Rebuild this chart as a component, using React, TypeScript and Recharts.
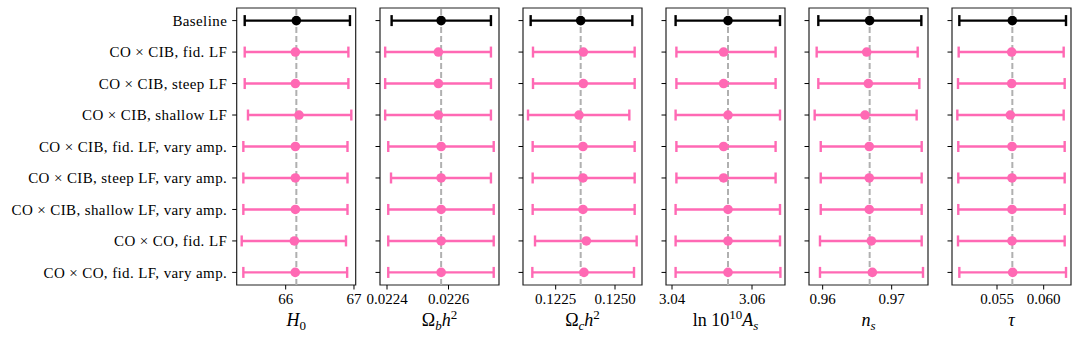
import React from 'react';
import { ScatterChart, Scatter, XAxis, YAxis, ErrorBar, ReferenceLine, ReferenceArea } from 'recharts';

const rowLabels = [
  'Baseline',
  'CO × CIB, fid. LF',
  'CO × CIB, steep LF',
  'CO × CIB, shallow LF',
  'CO × CIB, fid. LF, vary amp.',
  'CO × CIB, steep LF, vary amp.',
  'CO × CIB, shallow LF, vary amp.',
  'CO × CO, fid. LF',
  'CO × CO, fid. LF, vary amp.',
];

// H0
const h0Low = [65.4, 65.4, 65.4, 65.448, 65.38, 65.38, 65.38, 65.356, 65.38];
const h0Mid = [66.156, 66.142, 66.142, 66.195, 66.142, 66.142, 66.142, 66.127, 66.14];
const h0High = [66.941, 66.918, 66.918, 66.961, 66.905, 66.905, 66.905, 66.883, 66.9];
const h0Ticks = [66, 67];

// Omega_b h^2
const obLow = [0.022415, 0.022394, 0.022394, 0.022394, 0.022404, 0.022413, 0.022404, 0.022404, 0.022404];
const obMid = [0.022576, 0.022567, 0.022567, 0.022567, 0.022576, 0.022576, 0.022576, 0.022576, 0.022576];
const obHigh = [0.022738, 0.022738, 0.022738, 0.022738, 0.022747, 0.022738, 0.022747, 0.022747, 0.022747];
const obTicks = [0.0224, 0.0226];

// Omega_c h^2
const ocLow = [0.121446, 0.121544, 0.121544, 0.121334, 0.12153, 0.12153, 0.12153, 0.121629, 0.121516];
const ocMid = [0.123553, 0.123665, 0.123665, 0.123483, 0.12365, 0.12365, 0.12365, 0.123791, 0.123693];
const ocHigh = [0.12573, 0.125828, 0.125828, 0.125603, 0.125828, 0.125828, 0.125828, 0.125912, 0.1258];
const ocTicks = [0.1225, 0.125];

// ln 10^10 A_s
const asLow = [3.0409, 3.0411, 3.0411, 3.0409, 3.0411, 3.0411, 3.0409, 3.0409, 3.0409];
const asMid = [3.054, 3.0529, 3.0529, 3.054, 3.0529, 3.0529, 3.054, 3.054, 3.054];
const asHigh = [3.067, 3.0659, 3.0659, 3.067, 3.0659, 3.0659, 3.067, 3.067, 3.0671];
const asTicks = [3.04, 3.06];

// n_s
const nsLow = [0.95937, 0.95913, 0.95937, 0.95884, 0.95972, 0.95972, 0.95972, 0.95961, 0.95961];
const nsMid = [0.96681, 0.96638, 0.96662, 0.96614, 0.96675, 0.96675, 0.96675, 0.96705, 0.9672];
const nsHigh = [0.9743, 0.97377, 0.97401, 0.97362, 0.97435, 0.97435, 0.97435, 0.97435, 0.97454];
const nsTicks = [0.96, 0.97];

// tau
const tauLow = [0.050964, 0.050892, 0.050821, 0.050749, 0.05085, 0.05085, 0.05085, 0.050821, 0.050964];
const tauMid = [0.056643, 0.056571, 0.056571, 0.056428, 0.05661, 0.05661, 0.05661, 0.056607, 0.056679];
const tauHigh = [0.062393, 0.062143, 0.06225, 0.062143, 0.06225, 0.06225, 0.06225, 0.06225, 0.062393];
const tauTicks = [0.055, 0.06];

const PINK = '#ff69b4';
const BLACK = '#000000';
const TEXT = '#000000';
const FONT = '"Liberation Serif", "DejaVu Serif", serif';
const ROW_TICKS = [0, 1, 2, 3, 4, 5, 6, 7, 8];
const PLOT_W = 119;
const RIGHT_PAD = 25;

const dot = (color: string) => (props: any) => (
  <circle cx={props.cx} cy={props.cy} r={4.8} fill={color} stroke="none" />
);

type PanelProps = {
  index: number;
  low: number[];
  mid: number[];
  high: number[];
  domain: [number, number];
  ticks: number[];
  fmt: (v: number) => string;
  label: React.ReactNode;
};

function Panel({ index, low, mid, high, domain, ticks, fmt, label }: PanelProps) {
  const plotLeft = 236.7 + 143 * index;
  const showY = index === 0;
  const yW = showY ? plotLeft : 20;
  const left = plotLeft - yW;
  const width = yW + PLOT_W + RIGHT_PAD;
  const base = [{ y: 0, x: mid[0], err: [mid[0] - low[0], high[0] - mid[0]] }];
  const rest = mid.slice(1).map((m, k) => ({
    y: k + 1,
    x: m,
    err: [m - low[k + 1], high[k + 1] - m],
  }));
  return (
    <div style={{ position: 'absolute', left, top: 0 }}>
      <ScatterChart width={width} height={338} margin={{ top: 8, right: RIGHT_PAD, bottom: 0, left: 0 }}>
        <XAxis
          type="number"
          dataKey="x"
          domain={domain}
          allowDataOverflow
          ticks={ticks}
          interval={0}
          tickFormatter={fmt}
          height={53}
          axisLine={false}
          tickSize={4.5}
          tickMargin={4}
          tickLine={{ stroke: '#000', strokeWidth: 1 }}
          tick={{ fontSize: 15, fill: TEXT, fontFamily: FONT }}
          label={{
            content: (p: any) => {
              const vb = p.viewBox || {};
              const cx = vb.x + vb.width / 2;
              return (
                <text x={cx} y={326} textAnchor="middle" fontSize={18} fontFamily={FONT} fill={TEXT}>
                  {label}
                </text>
              );
            },
          }}
        />
        <YAxis
          type="number"
          dataKey="y"
          domain={[-0.4, 8.4]}
          allowDataOverflow
          reversed
          ticks={ROW_TICKS}
          interval={0}
          width={yW}
          axisLine={false}
          tickSize={4.5}
          tickMargin={5}
          tickLine={{ stroke: '#000', strokeWidth: 1 }}
          tickFormatter={(v: number) => (showY ? rowLabels[v] : '')}
          tick={{ fontSize: 15, fill: TEXT, fontFamily: FONT, letterSpacing: 0.4 }}
        />
        <ReferenceLine x={mid[0]} stroke="#b0b0b0" strokeDasharray="6 3" strokeWidth={2} />
        <ReferenceArea
          x1={domain[0]}
          x2={domain[1]}
          y1={-0.4}
          y2={8.4}
          fill="none"
          fillOpacity={0}
          stroke="#222"
          strokeWidth={1.2}
          strokeOpacity={1}
        />
        <Scatter data={rest} fill={PINK} shape={dot(PINK)} isAnimationActive={false}>
          <ErrorBar dataKey="err" direction="x" width={5.5} stroke={PINK} strokeWidth={2.4} />
        </Scatter>
        <Scatter data={base} fill={BLACK} shape={dot(BLACK)} isAnimationActive={false}>
          <ErrorBar dataKey="err" direction="x" width={5.5} stroke={BLACK} strokeWidth={2.4} />
        </Scatter>
      </ScatterChart>
    </div>
  );
}

const SUB = 13;

export default function App() {
  return (
    <div style={{ position: 'absolute', left: 0, top: 0, width: 1080, height: 338, background: '#fff' }}>
      <Panel
        index={0}
        low={h0Low}
        mid={h0Mid}
        high={h0High}
        domain={[65.2826, 67.025]}
        ticks={h0Ticks}
        fmt={(v) => String(v)}
        label={
          <>
            <tspan fontStyle="italic">H</tspan>
            <tspan fontSize={SUB} dy={4}>0</tspan>
          </>
        }
      />
      <Panel
        index={1}
        low={obLow}
        mid={obMid}
        high={obHigh}
        domain={[0.0223772, 0.0227642]}
        ticks={obTicks}
        fmt={(v) => v.toFixed(4)}
        label={
          <>
            <tspan>Ω</tspan>
            <tspan fontSize={SUB} dy={4} fontStyle="italic">b</tspan>
            <tspan dy={-4} fontStyle="italic">h</tspan>
            <tspan fontSize={SUB} dy={-7}>2</tspan>
          </>
        }
      />
      <Panel
        index={2}
        low={ocLow}
        mid={ocMid}
        high={ocHigh}
        domain={[0.121123, 0.126137]}
        ticks={ocTicks}
        fmt={(v) => v.toFixed(4)}
        label={
          <>
            <tspan>Ω</tspan>
            <tspan fontSize={SUB} dy={4} fontStyle="italic">c</tspan>
            <tspan dy={-4} fontStyle="italic">h</tspan>
            <tspan fontSize={SUB} dy={-7}>2</tspan>
          </>
        }
      />
      <Panel
        index={3}
        low={asLow}
        mid={asMid}
        high={asHigh}
        domain={[3.0385, 3.06825]}
        ticks={asTicks}
        fmt={(v) => v.toFixed(2)}
        label={
          <>
            <tspan>ln 10</tspan>
            <tspan fontSize={SUB} dy={-7}>10</tspan>
            <tspan dy={7} fontStyle="italic">A</tspan>
            <tspan fontSize={SUB} dy={4} fontStyle="italic">s</tspan>
          </>
        }
      />
      <Panel
        index={4}
        low={nsLow}
        mid={nsMid}
        high={nsHigh}
        domain={[0.958019, 0.975265]}
        ticks={nsTicks}
        fmt={(v) => v.toFixed(2)}
        label={
          <>
            <tspan fontStyle="italic">n</tspan>
            <tspan fontSize={SUB} dy={4} fontStyle="italic">s</tspan>
          </>
        }
      />
      <Panel
        index={5}
        low={tauLow}
        mid={tauMid}
        high={tauHigh}
        domain={[0.050178, 0.062928]}
        ticks={tauTicks}
        fmt={(v) => v.toFixed(3)}
        label={<tspan fontStyle="italic">τ</tspan>}
      />
    </div>
  );
}
